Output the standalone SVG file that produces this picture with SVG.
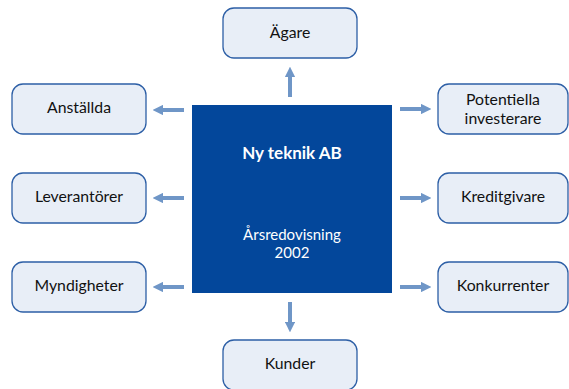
<svg xmlns="http://www.w3.org/2000/svg" width="569" height="389" viewBox="0 0 569 389">
<style>
.box{fill:#e8eef7;stroke:#2d5fa6;stroke-width:1.3}
.t{font-family:Lato,"Open Sans","Liberation Sans",sans-serif;font-size:15.8px;fill:#111;text-anchor:middle}
.w{font-family:Lato,"Open Sans","Liberation Sans",sans-serif;fill:#fff;text-anchor:middle}
.c{stroke:#6f96c7;stroke-width:4;fill:none;marker-end:url(#ah)}
</style>
<defs>
<marker id="ah" viewBox="0 0 10 10" refX="2" refY="5" markerWidth="2.6" markerHeight="2.6" orient="auto" markerUnits="strokeWidth">
<path d="M0,0 L10,5 L0,10 Z" fill="#6f96c7"/>
</marker>
</defs>
<rect width="569" height="389" fill="#fff"/>
<g id="center">
<rect x="192" y="105" width="200" height="188" fill="#03479b"/>
<text class="w" x="292" y="159" font-size="17" font-weight="bold">Ny teknik AB</text>
<text class="w" x="292" y="240" font-size="15">Årsredovisning</text>
<text class="w" x="292" y="258" font-size="15">2002</text>
</g>
<g id="connectors">
<line class="c" x1="290" y1="97" x2="290" y2="75"/>
<line class="c" x1="290" y1="302" x2="290" y2="324"/>
<line class="c" x1="184" y1="110" x2="161" y2="110"/>
<line class="c" x1="184" y1="198" x2="161" y2="198"/>
<line class="c" x1="184" y1="287" x2="161" y2="287"/>
<line class="c" x1="400" y1="109" x2="423" y2="109"/>
<line class="c" x1="400" y1="198" x2="423" y2="198"/>
<line class="c" x1="400" y1="287" x2="423" y2="287"/>
</g>
<g id="agare"><rect class="box" x="223" y="8" width="134" height="50" rx="11"/><text class="t" x="290" y="38">Ägare</text></g>
<g id="kunder"><rect class="box" x="223" y="340" width="134" height="50" rx="11"/><text class="t" x="290" y="369">Kunder</text></g>
<g id="anstallda"><rect class="box" x="12" y="84" width="134" height="50" rx="11"/><text class="t" x="79" y="113">Anställda</text></g>
<g id="leverantorer"><rect class="box" x="12" y="173" width="134" height="50" rx="11"/><text class="t" x="79" y="202">Leverantörer</text></g>
<g id="myndigheter"><rect class="box" x="12" y="262" width="134" height="50" rx="11"/><text class="t" x="79" y="291">Myndigheter</text></g>
<g id="potentiella"><rect class="box" x="438" y="84" width="130" height="50" rx="11"/><text class="t" x="503" y="105">Potentiella</text><text class="t" x="503" y="124">investerare</text></g>
<g id="kreditgivare"><rect class="box" x="438" y="173" width="130" height="50" rx="11"/><text class="t" x="503" y="202">Kreditgivare</text></g>
<g id="konkurrenter"><rect class="box" x="438" y="262" width="130" height="50" rx="11"/><text class="t" x="503" y="291">Konkurrenter</text></g>
</svg>
